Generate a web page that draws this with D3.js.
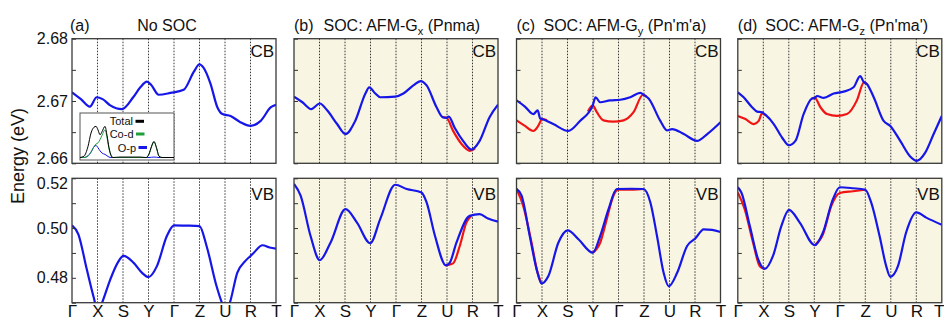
<!DOCTYPE html>
<html>
<head>
<meta charset="utf-8">
<style>
  body { margin: 0; background: #fff; }
  svg text { font-family: "Liberation Sans", Arial, sans-serif; fill: #111; }
</style>
<script src="https://d3js.org/d3.v7.min.js"></script>
</head>
<body>
<svg id="chart" width="944" height="321"></svg>
<script>
// k-path and axis ticks
const kLabels = ["Γ", "X", "S", "Y", "Γ", "Z", "U", "R", "T"];
const cbTicks = [2.66, 2.665, 2.67, 2.675, 2.68];
const cbTickLabels = ["2.66", "2.67", "2.68"];
const vbTicks = [0.47, 0.48, 0.49, 0.50, 0.51, 0.52];
const vbTickLabels = ["0.48", "0.50", "0.52"];

// (a) No SOC  -- [k, E]
const aCB = [[0,2.6714],[0.35,2.6703],[0.7,2.6691],[0.97,2.6706],[1.2,2.6703],[1.5,2.6693],[1.96,2.6687],[2.4,2.6706],[2.68,2.6722],[2.94,2.6731],[3.1,2.6726],[3.4,2.6710],[3.86,2.6713],[4.38,2.6718],[4.78,2.6747],[5.0,2.6759],[5.15,2.6754],[5.43,2.6728],[5.7,2.6690],[5.9,2.6679],[6.22,2.6676],[6.6,2.6666],[7.0,2.6660],[7.4,2.6668],[7.8,2.6690],[8.0,2.6694]];
const aVB = [[0,0.5011],[0.25,0.4975],[0.58,0.4834],[0.85,0.4722],[1.02,0.4662],[1.18,0.4700],[1.5,0.4793],[1.8,0.4862],[2.02,0.4888],[2.41,0.4861],[2.75,0.4820],[3.0,0.4803],[3.33,0.4847],[3.72,0.4968],[4.0,0.5011],[4.5,0.5010],[5.0,0.5008],[5.28,0.4927],[5.67,0.4766],[5.87,0.4702],[6.03,0.4663],[6.19,0.4700],[6.48,0.4820],[6.8,0.4868],[7.0,0.4888],[7.13,0.4901],[7.47,0.4931],[7.75,0.4922],[8.0,0.4917]];

// (b) AFM-Gx
const bCB = [[0,2.6707],[0.33,2.6698],[0.68,2.6687],[1.01,2.6696],[1.3,2.6685],[1.69,2.6663],[2.02,2.6647],[2.4,2.6668],[2.8,2.6712],[2.95,2.6722],[3.19,2.6712],[3.38,2.6706],[3.97,2.6707],[4.29,2.6712],[4.68,2.6725],[4.97,2.6732],[5.2,2.6725],[5.59,2.6690],[5.83,2.6674],[5.98,2.6673],[6.07,2.6675],[6.3,2.6657],[6.63,2.6636],[6.96,2.6622],[7.28,2.6636],[7.67,2.6674],[8.0,2.6694]];
const bCBred = [[[5.83,2.6674],[5.98,2.6673],[6.24,2.6652],[6.57,2.6631],[6.9,2.6620],[7.1,2.6624]]];
const bVB = [[0,0.5177],[0.26,0.5130],[0.65,0.4968],[1.01,0.4871],[1.43,0.4941],[2.02,0.5076],[2.47,0.5022],[2.99,0.4939],[3.38,0.5036],[3.97,0.5174],[4.42,0.5157],[5.0,0.5143],[5.2,0.5103],[5.53,0.4968],[5.96,0.4850],[6.11,0.4861],[6.37,0.4941],[6.89,0.5049],[7.28,0.5056],[7.61,0.5038],[8.0,0.5026]];
const bVBred = [[[5.96,0.4850],[6.24,0.4858],[6.5,0.4928],[6.76,0.5022],[6.95,0.5049]]];

// (c) AFM-Gy
const cCB = [[0,2.6701],[0.33,2.6691],[0.66,2.6679],[0.83,2.6685],[0.93,2.6672],[1.01,2.6671],[1.44,2.6663],[2.03,2.6652],[2.49,2.6668],[2.99,2.6693],[3.1,2.6706],[3.28,2.6698],[3.67,2.6701],[4.07,2.6702],[4.46,2.6706],[4.85,2.6713],[5.02,2.6709],[5.18,2.6704],[5.64,2.6668],[5.9,2.6653],[6.1,2.6655],[6.56,2.6647],[7.08,2.6636],[7.48,2.6647],[8.0,2.6666]];
const cCBred = [
  [[0,2.6669],[0.33,2.6660],[0.66,2.6652],[0.85,2.6660],[1.01,2.6671],[1.2,2.6669]],
  [[2.8,2.6683],[2.99,2.6693],[3.15,2.6682],[3.41,2.6669],[3.8,2.6667],[4.2,2.6669],[4.59,2.6682],[4.96,2.6710],[5.1,2.6707]]
];
const cVB = [[0,0.5157],[0.2,0.5130],[0.52,0.4968],[0.79,0.4834],[0.98,0.4777],[1.25,0.4807],[1.64,0.4941],[2.01,0.4991],[2.43,0.4955],[2.99,0.4901],[3.28,0.4968],[3.61,0.5076],[3.93,0.5157],[4.5,0.5158],[4.98,0.5157],[5.25,0.5103],[5.51,0.4968],[5.77,0.4820],[5.97,0.4766],[6.3,0.4820],[6.69,0.4928],[7.02,0.4959],[7.34,0.4995],[7.67,0.4993],[8.0,0.4984]];
const cVBred = [
  [[0,0.5157],[0.26,0.5090],[0.59,0.4941],[0.81,0.4827],[0.98,0.4777]],
  [[2.99,0.4901],[3.28,0.4941],[3.54,0.5036],[3.8,0.5130],[4.0,0.5154],[4.59,0.5154],[4.98,0.5157]]
];

// (d) AFM-Gz
const dCB = [[0,2.6714],[0.23,2.6706],[0.56,2.6690],[0.76,2.6683],[0.95,2.6682],[1.08,2.6678],[1.41,2.6663],[1.74,2.6641],[2.0,2.6629],[2.26,2.6636],[2.58,2.6679],[2.91,2.6704],[3.02,2.6705],[3.11,2.6708],[3.37,2.6705],[3.76,2.6712],[4.15,2.6715],[4.54,2.6722],[4.8,2.6740],[4.93,2.6731],[5.07,2.6727],[5.33,2.6706],[5.72,2.6668],[5.98,2.6660],[6.37,2.6636],[6.76,2.6611],[7.02,2.6604],[7.35,2.6617],[7.68,2.6647],[8.0,2.6676]];
const dCBred = [
  [[0,2.6676],[0.3,2.6671],[0.63,2.6663],[0.82,2.6668],[0.95,2.6680],[1.1,2.6677]],
  [[2.91,2.6704],[3.02,2.6705],[3.24,2.6690],[3.5,2.6679],[3.89,2.6676],[4.28,2.6679],[4.67,2.6701],[4.95,2.6730],[5.07,2.6727]]
];
const dVB = [[0,0.5164],[0.14,0.5143],[0.47,0.5009],[0.8,0.4874],[1.06,0.4836],[1.38,0.4888],[1.71,0.5009],[2.01,0.5073],[2.43,0.5022],[3.02,0.4931],[3.34,0.4982],[3.73,0.5116],[4.0,0.5164],[4.52,0.5160],[5.0,0.5154],[5.23,0.5103],[5.56,0.4968],[5.82,0.4847],[5.98,0.4804],[6.28,0.4847],[6.6,0.4982],[7.0,0.5063],[7.39,0.5042],[8.0,0.5013]];
const dVBred = [
  [[0,0.5143],[0.27,0.5076],[0.6,0.4941],[0.86,0.4847],[1.06,0.4836]],
  [[3.02,0.4931],[3.34,0.4975],[3.67,0.5090],[4.0,0.5141],[4.52,0.5148],[5.0,0.5154]]
];

// DOS inset of panel (a), arbitrary units
const dosX   = [0, 4, 8, 11, 14, 16, 18, 20, 22, 25, 27, 29, 31, 33, 40, 50, 60, 66, 69, 71.5, 74, 76.5, 79, 82, 94];
const dosTot = [0, 0.03, 0.25, 0.55, 0.68, 0.70, 0.62, 0.51, 0.58, 0.70, 0.50, 0.22, 0.05, 0, 0.01, 0.01, 0.01, 0, 0.08, 0.25, 0.36, 0.22, 0.03, 0, 0];
const dosCoD = [0, 0, 0.03, 0.12, 0.25, 0.30, 0.33, 0.40, 0.50, 0.62, 0.45, 0.20, 0.05, 0, 0, 0, 0, 0, 0.07, 0.24, 0.35, 0.21, 0.03, 0, 0];
const dosOP  = [0, 0, 0.04, 0.12, 0.24, 0.27, 0.22, 0.15, 0.10, 0.07, 0.04, 0.01, 0, 0, 0, 0, 0, 0, 0, 0.005, 0.01, 0.005, 0, 0, 0];
const dosNames = ["Total", "Co-d", "O-p"];

const tags = ["(a)", "(b)", "(c)", "(d)"];
const titleMain = ["No SOC", "SOC: AFM-G", "SOC: AFM-G", "SOC: AFM-G"];
const titleSub = ["", "x", "y", "z"];
const titleTail = ["", " (Pnma)", " (Pn'm'a)", " (Pn'ma')"];

const BLUE = "#1616e8", RED = "#f01414", GREEN = "#1f9e3c", CREAM = "#f8f5e3";

const svg = d3.select("#chart");
const W = 204;
const lefts = [72, 294, 516.5, 737.8];
const cbBox = [38.7, 163.3], vbBox = [178.3, 302.7];

const panels = [
  {cb: aCB, vb: aVB, cbRed: [], vbRed: [], bg: "#ffffff"},
  {cb: bCB, vb: bVB, cbRed: bCBred, vbRed: bVBred, bg: CREAM},
  {cb: cCB, vb: cVB, cbRed: cCBred, vbRed: cVBred, bg: CREAM},
  {cb: dCB, vb: dVB, cbRed: dCBred, vbRed: dVBred, bg: CREAM}
];

const defs = svg.append("defs");

panels.forEach((p, i) => {
  const x = d3.scaleLinear().domain([0, 8]).range([lefts[i], lefts[i] + W]);
  const subs = [
    {name: "CB", blue: p.cb, red: p.cbRed, box: cbBox, dom: [2.66, 2.68], ticks: cbTicks, labels: cbTickLabels},
    {name: "VB", blue: p.vb, red: p.vbRed, box: vbBox, dom: [0.47, 0.52], ticks: vbTicks, labels: vbTickLabels}
  ];
  subs.forEach(s => {
    const y = d3.scaleLinear().domain(s.dom).range([s.box[1], s.box[0]]);
    const g = svg.append("g");
    const id = "clip" + i + s.name;
    defs.append("clipPath").attr("id", id)
      .append("rect").attr("x", x(0)).attr("y", s.box[0])
      .attr("width", W).attr("height", s.box[1] - s.box[0]);

    g.append("rect").attr("x", x(0)).attr("y", s.box[0])
      .attr("width", W).attr("height", s.box[1] - s.box[0])
      .attr("fill", p.bg);

    // high-symmetry lines
    g.selectAll(".kl").data(d3.range(1, 8)).enter().append("line")
      .attr("x1", d => x(d)).attr("x2", d => x(d))
      .attr("y1", s.box[0]).attr("y2", s.box[1])
      .attr("stroke", "#222").attr("stroke-width", 0.9)
      .attr("stroke-dasharray", "1.5,1.5");

    const line = d3.line().x(d => x(d[0])).y(d => y(d[1])).curve(d3.curveMonotoneX);
    const cg = g.append("g").attr("clip-path", "url(#" + id + ")");
    s.red.forEach(seg => {
      cg.append("path").attr("d", line(seg)).attr("fill", "none")
        .attr("stroke", RED).attr("stroke-width", 2.2);
    });
    cg.append("path").attr("d", line(s.blue)).attr("fill", "none")
      .attr("stroke", BLUE).attr("stroke-width", 2.2);

    // inward ticks
    const ax = g.append("g").attr("transform", `translate(${x(0)},0)`)
      .call(d3.axisRight(y).tickValues(s.ticks).tickSize(4).tickFormat(""));
    ax.select(".domain").remove();
    ax.selectAll("line").attr("stroke", "#333");

    if (i === 0) {
      const lab = g.append("g").attr("transform", `translate(${x(0)},0)`)
        .call(d3.axisLeft(y).tickValues(s.labels.map(Number)).tickSize(0).tickPadding(4)
          .tickFormat((d, j) => s.labels[j]));
      lab.select(".domain").remove();
      lab.selectAll("text").attr("font-size", 16).attr("font-family", "Liberation Sans, Arial, sans-serif");
      // nudge the labels at the gap between the two boxes apart
      const shift = s.name === "CB" ? -5 : 5;
      const edge = s.name === "CB" ? 0 : s.labels.length - 1;
      lab.selectAll("text").filter((d, j) => j === edge).attr("y", shift);
    }

    g.append("rect").attr("x", x(0)).attr("y", s.box[0])
      .attr("width", W).attr("height", s.box[1] - s.box[0])
      .attr("fill", "none").attr("stroke", "#3a3a3a").attr("stroke-width", 1.3);

    g.append("text").attr("x", x(8) - 2).attr("y", s.box[0] + (s.name === "CB" ? 18 : 22))
      .attr("text-anchor", "end").attr("font-size", 17).text(s.name);
  });

  // k labels
  const kx = svg.append("g").attr("transform", `translate(0,${vbBox[1]})`)
    .call(d3.axisBottom(x).tickValues(d3.range(kLabels.length)).tickSize(0).tickPadding(2)
      .tickFormat((d, j) => kLabels[j]));
  kx.select(".domain").remove();
  kx.selectAll("text").attr("font-size", 17).attr("font-family", "Liberation Sans, Arial, sans-serif");
  if (i === panels.length - 1) {
    // last label sits at the window edge
    kx.selectAll("text").filter((d, j) => j === kLabels.length - 1).attr("dx", -3);
  }

  // titles
  svg.append("text").attr("x", lefts[i] - (i === 0 ? 2 : 0)).attr("y", 31)
    .attr("font-size", 16).text(tags[i]);
  const t = svg.append("text").attr("y", 31).attr("font-size", 16);
  if (i === 0) {
    t.attr("x", 167).attr("text-anchor", "middle").text(titleMain[i]);
  } else {
    t.attr("x", lefts[i] + [0, 29.5, 27, 27.5][i]);
    t.append("tspan").text(titleMain[i]);
    t.append("tspan").attr("font-size", 11).attr("dy", 4).text(titleSub[i]);
    t.append("tspan").attr("dy", -4).text(titleTail[i]);
  }
});

// y axis title
svg.append("text").attr("transform", "translate(24,156) rotate(-90)")
  .attr("text-anchor", "middle").attr("font-size", 18).text("Energy (eV)");

// DOS inset
const ix = d3.scaleLinear().domain([0, 94]).range([80, 174]);
const iy = d3.scaleLinear().domain([0, 1]).range([157.5, 113]);
const inset = svg.append("g");
inset.append("rect").attr("x", 80).attr("y", 113).attr("width", 94).attr("height", 47)
  .attr("fill", "#fff").attr("stroke", "#555").attr("stroke-width", 1);
const dl = d3.line().x((d, j) => ix(dosX[j])).y(d => iy(d)).curve(d3.curveMonotoneX);
[[dosOP, BLUE], [dosCoD, GREEN], [dosTot, "#000"]].forEach(([vals, col]) => {
  inset.append("path").attr("d", dl(vals)).attr("fill", "none")
    .attr("stroke", col).attr("stroke-width", 1);
});
const legCols = ["#000", GREEN, BLUE];
const legY = [121.3, 134, 147.5];
const legEnd = [133, 133.5, 136];
dosNames.forEach((n, j) => {
  inset.append("text").attr("x", legEnd[j]).attr("y", legY[j] + 4).attr("text-anchor", "end")
    .attr("font-size", 11).text(n);
  inset.append("line").attr("x1", legEnd[j] + 2.5).attr("x2", legEnd[j] + 11)
    .attr("y1", legY[j]).attr("y2", legY[j]).attr("stroke", legCols[j]).attr("stroke-width", 3);
});
</script>
</body>
</html>
